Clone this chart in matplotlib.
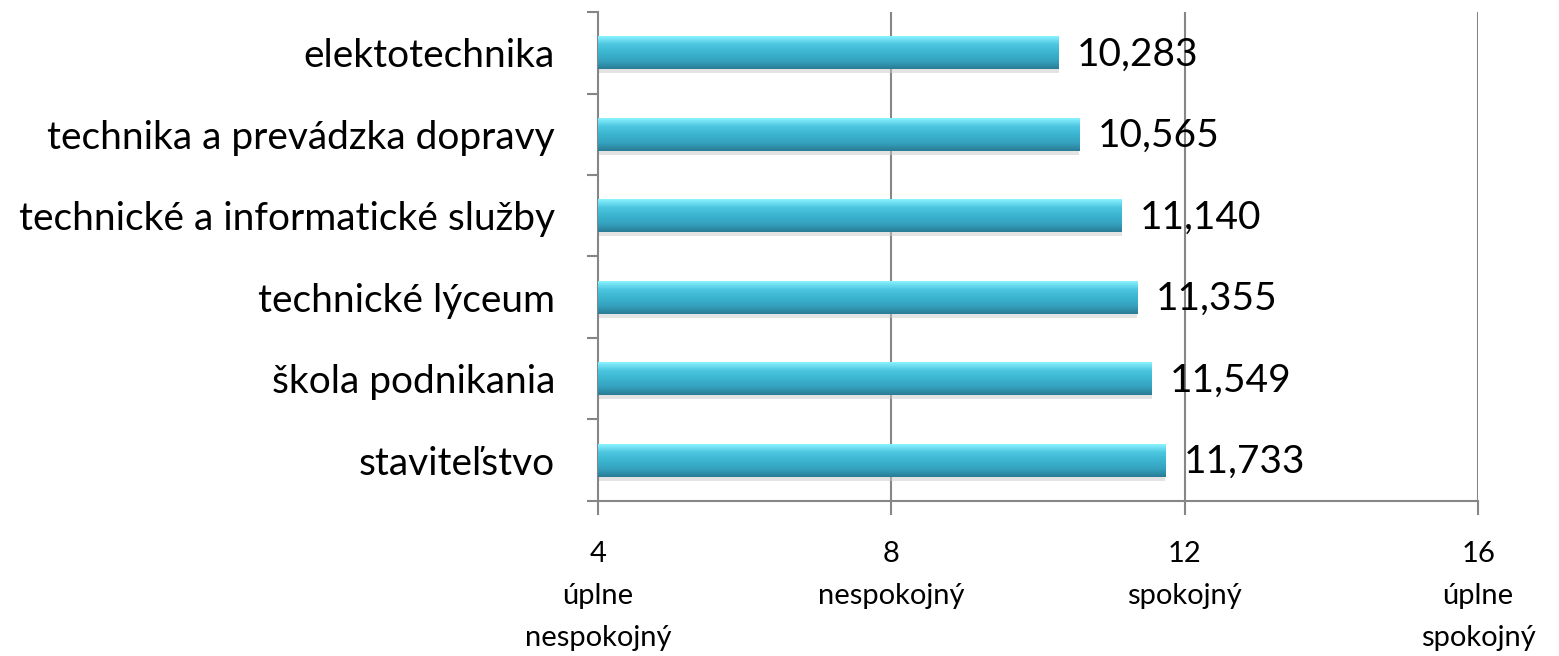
import numpy as np
import matplotlib
matplotlib.use("Agg")
import matplotlib.pyplot as plt
from matplotlib.colors import LinearSegmentedColormap

plt.rcParams['font.family'] = ['Lato', 'DejaVu Sans']

categories = ['staviteľstvo', 'škola podnikania', 'technické lýceum',
              'technické a informatické služby', 'technika a prevádzka dopravy',
              'elektotechnika']
values = [11.733, 11.549, 11.355, 11.140, 10.565, 10.283]
value_labels = ['11,733', '11,549', '11,355', '11,140', '10,565', '10,283']
xticks = [4, 8, 12, 16]
xtick_labels = ['4\núplne\nnespokojný', '8\nnespokojný', '12\nspokojný', '16\núplne\nspokojný']

fig = plt.figure(figsize=(15.59, 6.56), dpi=100)
ax = fig.add_axes([0.3836, 0.2363, 0.5645, 0.7454])

grey = '#868686'
ypos = np.arange(len(categories))
bh = 0.4
cmap = LinearSegmentedColormap.from_list('bar', ['#2a7c95', '#35a2bf', '#3bb4d1', '#4cc6e0', '#8af2ff'])
grad = np.linspace(0, 1, 100).reshape(-1, 1)

# shadow + gradient bars
for y, v, lab in zip(ypos, values, value_labels):
    ax.barh(y - 0.05, v - 4, left=4, height=bh, color='#c8c8c8', alpha=0.5, zorder=2)
    bars = ax.barh(y, v - 4, left=4, height=bh, color='none', zorder=3)
    im = ax.imshow(grad, cmap=cmap, aspect='auto', origin='lower',
                   extent=(4, v, y - bh / 2, y + bh / 2), zorder=3)
    im.set_clip_path(bars[0])
    ax.text(v + 0.25, y - 0.02, lab, va='center', ha='left', fontsize=28, zorder=5)

ax.set_xlim(4, 16)
ax.set_ylim(-0.5, len(categories) - 0.5)

for x in xticks[1:]:
    ax.axvline(x, color=grey, lw=1.5, zorder=1)

ax.set_xticks(xticks)
ax.set_xticklabels(xtick_labels, fontsize=21, linespacing=1.75)
ax.tick_params(axis='x', length=10, width=1.5, color=grey, pad=19)

ax.set_yticks(ypos)
ax.set_yticklabels(categories, fontsize=28)
ax.tick_params(axis='y', length=0, pad=31)
ax.set_yticks(np.arange(-0.5, len(categories)), minor=True)
ax.tick_params(axis='y', which='minor', length=8, width=1.5, color=grey)

for s in ['top', 'right']:
    ax.spines[s].set_visible(False)
for s in ['left', 'bottom']:
    ax.spines[s].set_color(grey)
    ax.spines[s].set_linewidth(1.5)

fig.savefig('out.png', dpi=100)
